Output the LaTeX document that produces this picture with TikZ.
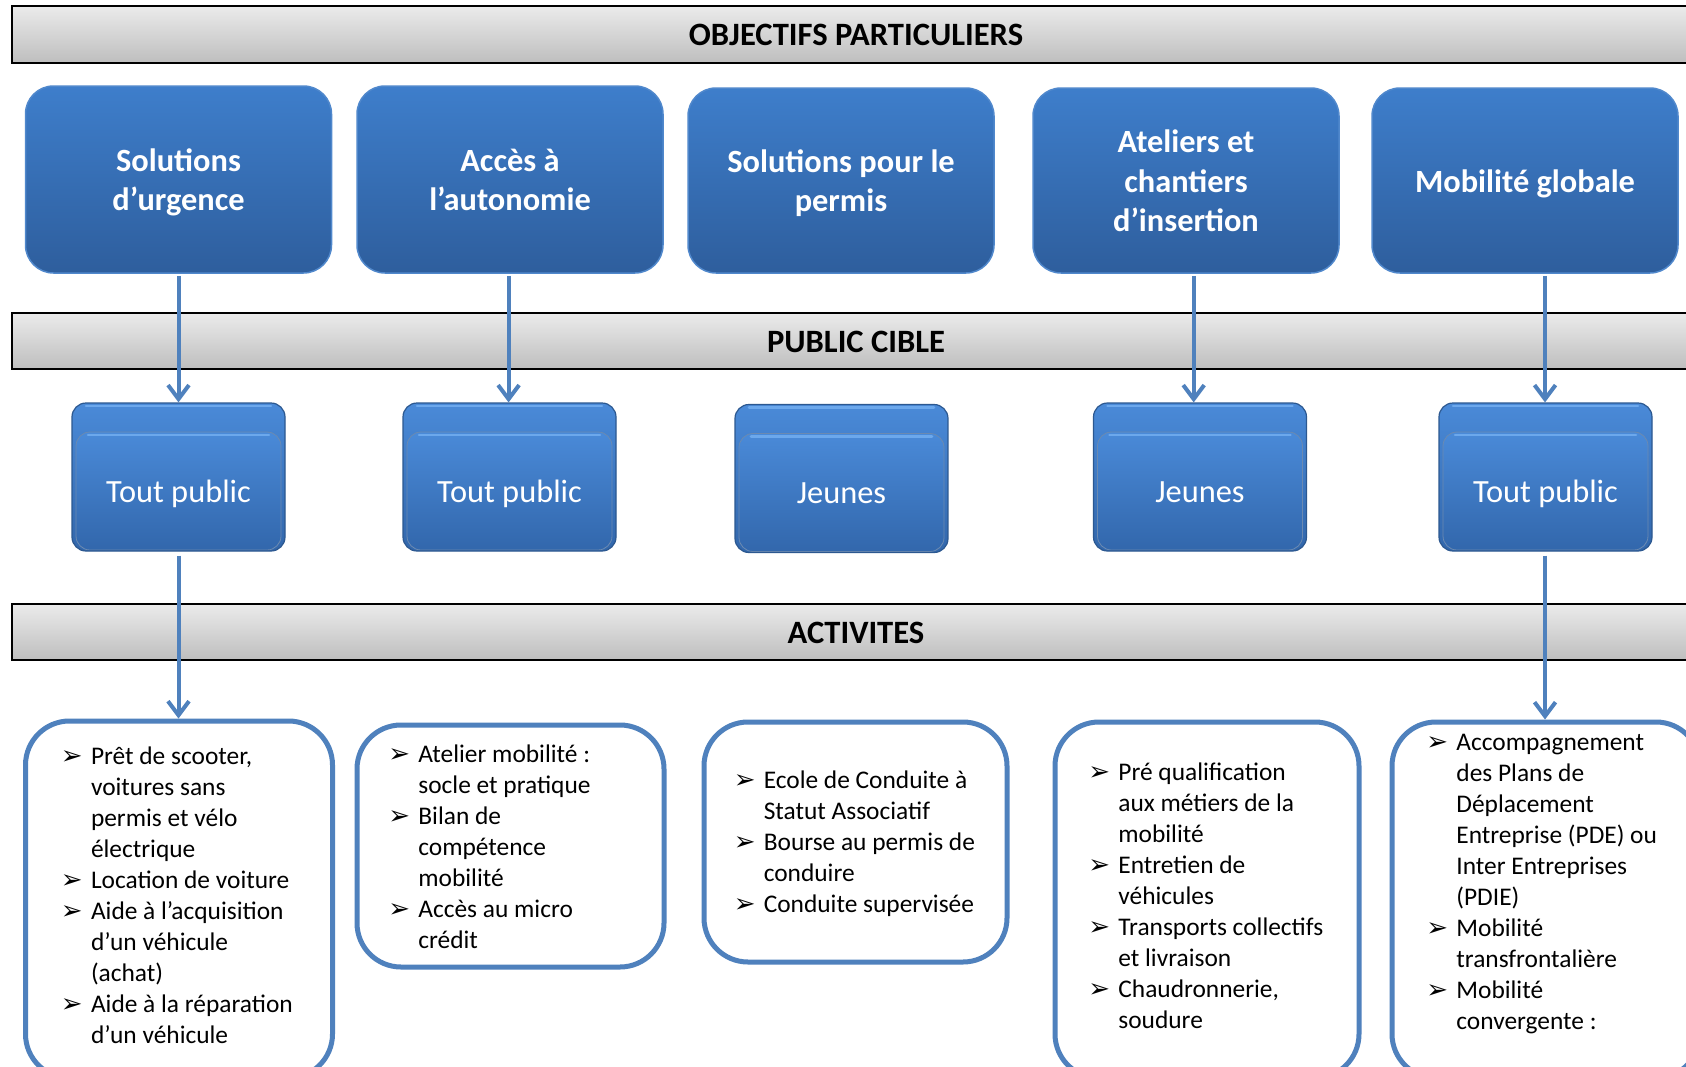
\documentclass[tikz,border=0pt]{standalone}
\usepackage{fontspec}
\setmainfont{Carlito}
\newfontfamily\bulfont{DejaVu Sans}
\usetikzlibrary{arrows.meta,calc}
\setlength{\parskip}{0pt}

\definecolor{barTop}{HTML}{EBEBEB}
\definecolor{barBot}{HTML}{BEBEBE}
\definecolor{oTop}{HTML}{3E7ECB}
\definecolor{oBot}{HTML}{2E5E9D}
\definecolor{oEdge}{HTML}{5088CC}
\definecolor{pTop}{HTML}{4A8AD8}
\definecolor{pBot}{HTML}{3267AC}
\definecolor{pEdge}{HTML}{2C5890}
\definecolor{pHi}{HTML}{6CA8EC}
\definecolor{lineBlue}{HTML}{4F81BD}

\newcommand{\bul}{\noindent\hangindent=15pt\relax\hangafter=1\relax\makebox[15pt][l]{\bulfont\fontsize{13pt}{13pt}\selectfont ➢}\strut}
\newcommand{\afont}{\fontsize{12.7pt}{15.5pt}\selectfont}
\newcommand{\olab}[1]{\raisebox{-1.9pt}[\height][\depth]{\begin{tabular}{@{}c@{}}#1\end{tabular}}}
\newenvironment{alist}{\begin{minipage}[t]{130pt}\afont\hyphenpenalty=10000\relax}{\end{minipage}}

\begin{document}
\begin{tikzpicture}[x=0.5pt,y=-0.5pt,
  bar/.style={draw=black, line width=1.2pt, top color=barTop, bottom color=barBot,
    minimum width=843.75pt, minimum height=28.5pt, inner sep=0pt, text height=11.2pt, text depth=0pt,
    font=\fontsize{16.3pt}{19pt}\selectfont\bfseries},
  obox/.style={draw=oEdge, line width=0.75pt, rounded corners=14pt, top color=oTop, bottom color=oBot,
    text=white, font=\fontsize{16.2pt}{19.6pt}\selectfont\bfseries,
    minimum width=153pt, minimum height=93pt, inner sep=0pt},
  pbox/.style={draw=pEdge, line width=0.6pt, rounded corners=7pt, top color=pTop, bottom color=pBot,
    minimum width=106.5pt, minimum height=74pt, inner sep=0pt,
    path picture={
      \draw[pHi, line width=1.3pt, line cap=round]
        ([xshift=7pt,yshift=-1.4pt]path picture bounding box.north west) --
        ([xshift=-7pt,yshift=-1.4pt]path picture bounding box.north east);
      \shade[top color=pTop, bottom color=pBot, rounded corners=7pt, draw=pEdge!70, line width=0.4pt]
        ([xshift=2pt,yshift=-14.5pt]path picture bounding box.north west) rectangle
        ([xshift=-2pt,yshift=0.5pt]path picture bounding box.south east);
      \draw[pHi, line width=1.3pt, line cap=round]
        ([xshift=8pt,yshift=-15.9pt]path picture bounding box.north west) --
        ([xshift=-8pt,yshift=-15.9pt]path picture bounding box.north east);
    }},
  ptxt/.style={text=white, font=\fontsize{16.2pt}{19pt}\selectfont, inner sep=0pt,
    text height=12pt, text depth=3.2pt},
  abox/.style={draw=lineBlue, line width=2.5pt, rounded corners=22pt, fill=white,
    minimum width=153pt, inner sep=0pt},
  atxt/.style={anchor=north west, inner sep=0pt, font=\afont},
  arr/.style={draw=lineBlue, line width=2pt, -{Straight Barb[length=7pt,width=10.5pt]}}
]
\useasboundingbox (0,0) rectangle (1686,1066);
\clip (0,0) rectangle (1686,1066);
\fill[white] (0,0) rectangle (1686,1066);

% header bars
\node[bar] (b1) at (856,34.5) {OBJECTIFS PARTICULIERS};
\node[bar, minimum height=28pt] (b2) at (856,341) {PUBLIC CIBLE};
\node[bar, minimum height=28pt] (b3) at (856,632) {ACTIVITES};

% objectives
\node[obox, minimum height=93.5pt] (o1) at (178.5,179.5) {\olab{Solutions\\d’urgence}};
\node[obox, minimum height=93.5pt] (o2) at (510,179.5) {\olab{Accès à\\l’autonomie}};
\node[obox, minimum height=92.5pt] (o3) at (841,180.5) {\olab{Solutions pour le\\permis}};
\node[obox, minimum height=92.5pt] (o4) at (1186,180.5) {\olab{Ateliers et\\chantiers\\d’insertion}};
\node[obox, minimum height=92.5pt] (o5) at (1525,180.5) {\olab{Mobilité globale}};

% public
\node[pbox] (p1) at (178.5,477) {};
\node[pbox] (p2) at (509.5,477) {};
\node[pbox] (p3) at (841.5,478.5) {};
\node[pbox] (p4) at (1200,477) {};
\node[pbox] (p5) at (1545.5,477) {};
\node[ptxt] (t1) at (178.5,493.5) {Tout public};
\node[ptxt] (t2) at (509.5,493.5) {Tout public};
\node[ptxt] (t3) at (841.5,494.5) {Jeunes};
\node[ptxt] (t4) at (1200,493.5) {Jeunes};
\node[ptxt] (t5) at (1545.5,493.5) {Tout public};

% activities boxes
\node[abox, minimum width=153.5pt, minimum height=178.5pt] (a1) at (179,899.5) {};
\node[abox, minimum width=153.5pt, minimum height=121pt] (a2) at (510.5,846) {};
\node[abox, minimum width=151.5pt, minimum height=120pt] (a3) at (855.5,842) {};
\node[abox, minimum width=152pt, minimum height=178pt] (a4) at (1207,900) {};
\node[abox, minimum width=154pt, minimum height=178pt] (a5) at (1546,900) {};

\node[atxt] (l1) at (60.6,742) {\begin{alist}
\bul Prêt de scooter,\newline voitures sans\newline permis et vélo\newline électrique\par
\bul Location de voiture\par
\bul Aide à l’acquisition\newline d’un véhicule\newline (achat)\par
\bul Aide à la réparation\newline d’un véhicule\par
\end{alist}};
\node[atxt] (l2) at (388,740) {\begin{alist}
\bul Atelier mobilité :\newline socle et pratique\par
\bul Bilan de\newline compétence\newline mobilité\par
\bul Accès au micro\newline crédit\par
\end{alist}};
\node[atxt] (l3) at (733.4,766.6) {\begin{alist}
\bul Ecole de Conduite à\newline Statut Associatif\par
\bul Bourse au permis de\newline conduire\par
\bul Conduite supervisée\par
\end{alist}};
\node[atxt] (l4) at (1088,758) {\begin{alist}
\bul Pré qualification\newline aux métiers de la\newline mobilité\par
\bul Entretien de\newline véhicules\par
\bul Transports collectifs\newline et livraison\par
\bul Chaudronnerie,\newline soudure\par
\end{alist}};
\node[atxt] (l5) at (1426,728) {\begin{alist}
\bul Accompagnement\newline des Plans de\newline Déplacement\newline Entreprise (PDE) ou\newline Inter Entreprises\newline (PDIE)\par
\bul Mobilité\newline transfrontalière\par
\bul Mobilité\newline convergente :\par
\end{alist}};

% connectors
\coordinate (c1) at (178.5,0);
\coordinate (c2) at (508.6,0);
\coordinate (c4) at (1193.7,0);
\coordinate (c5) at (1545,0);
\draw[arr, shorten <=1pt] (o1.south -| c1) -- (p1.north -| c1);
\draw[arr, shorten <=1pt] (o2.south -| c2) -- (p2.north -| c2);
\draw[arr, shorten <=1pt] (o4.south -| c4) -- (p4.north -| c4);
\draw[arr, shorten <=1pt] (o5.south -| c5) -- (p5.north -| c5);
\draw[arr, shorten <=2pt] (p1.south -| c1) -- (a1.north -| c1);
\draw[arr, shorten <=2pt] (p5.south -| c5) -- (a5.north -| c5);
\end{tikzpicture}
\end{document}
